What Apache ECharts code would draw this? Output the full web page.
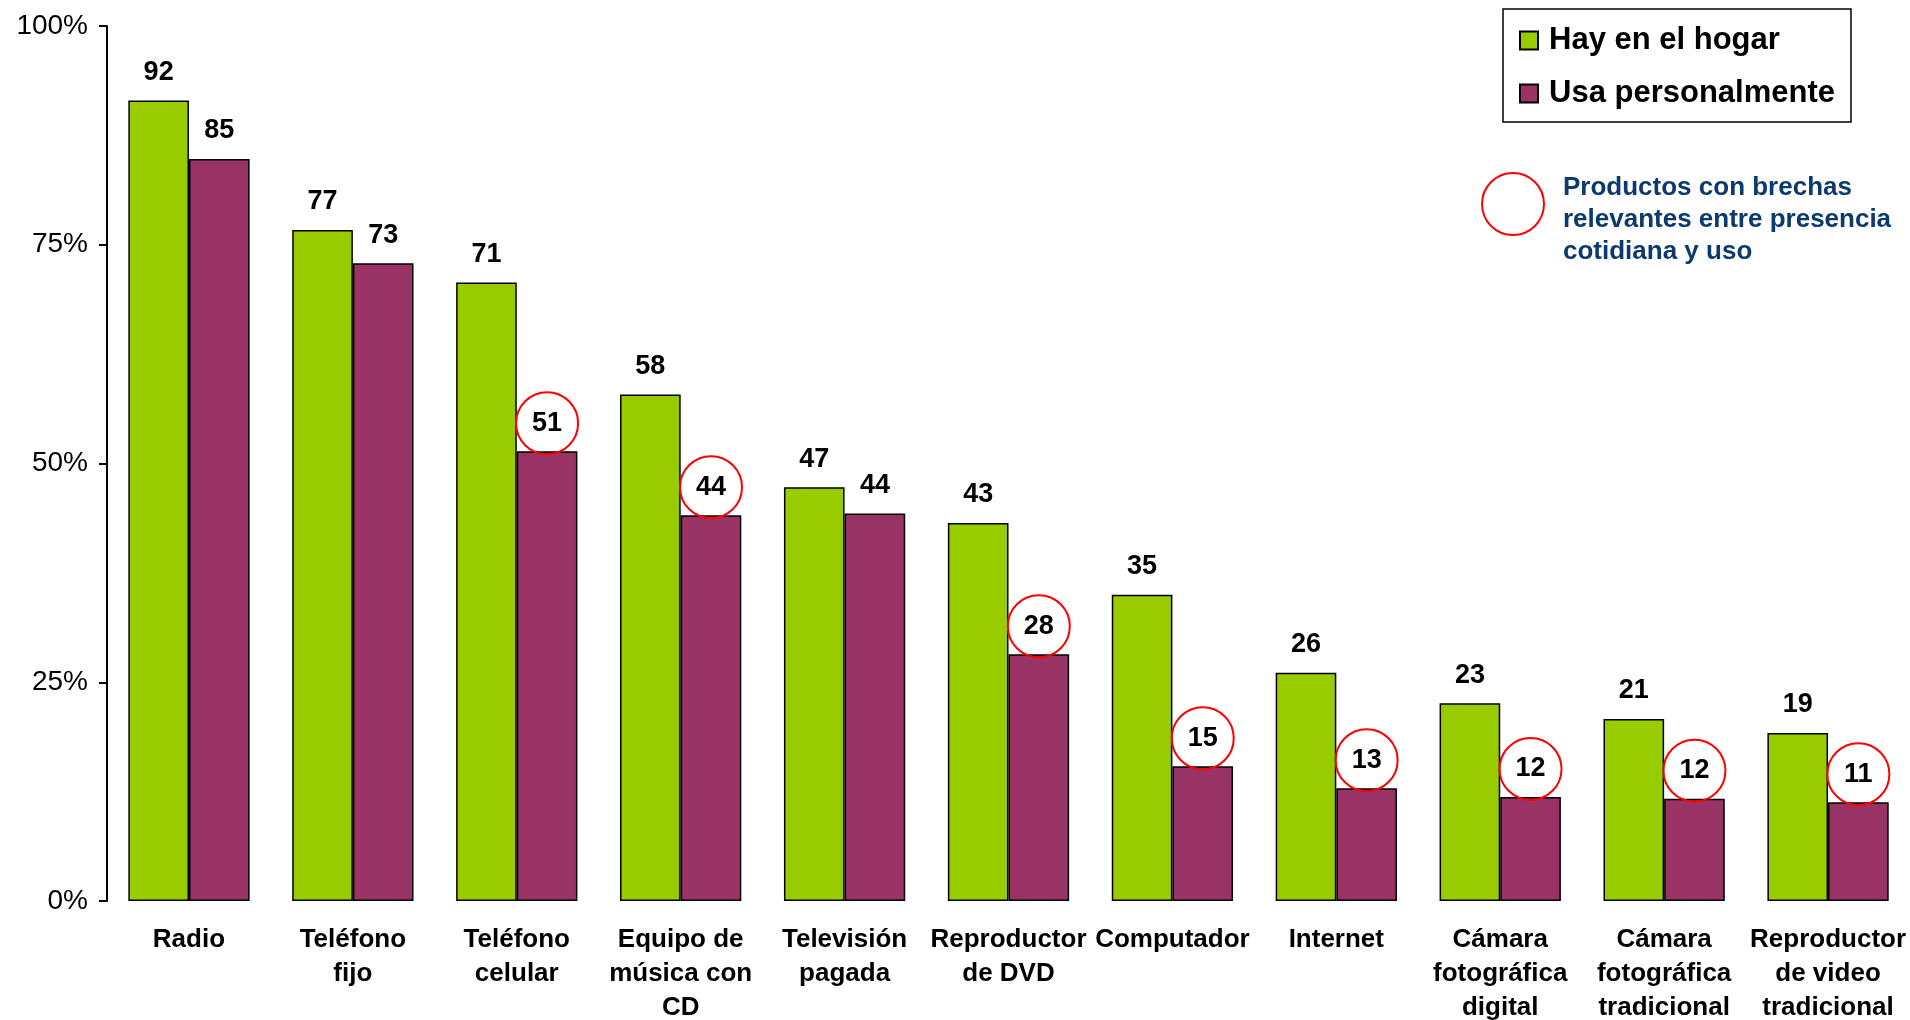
<!DOCTYPE html>
<html>
<head>
<meta charset="utf-8">
<script src="https://cdn.jsdelivr.net/npm/echarts@6/dist/echarts.min.js"></script>
<style>
html,body{margin:0;padding:0;background:#fff;}
#chart{width:1910px;height:1020px;}
</style>
</head>
<body>
<div id="chart"></div>
<script>
var categories = ['Radio', 'Teléfono\nfijo', 'Teléfono\ncelular', 'Equipo de\nmúsica con\nCD', 'Televisión\npagada', 'Reproductor\nde DVD', 'Computador', 'Internet', 'Cámara\nfotográfica\ndigital', 'Cámara\nfotográfica\ntradicional', 'Reproductor\nde video\ntradicional'];
var hayEnElHogar = [91.5, 76.7, 70.7, 57.9, 47.3, 43.2, 35.0, 26.1, 22.6, 20.8, 19.2];
var usaPersonalmente = [84.8, 72.9, 51.4, 44.1, 44.3, 28.2, 15.4, 12.9, 11.9, 11.7, 11.3];
var brechaRelevante = [false, false, true, true, false, true, true, true, true, true, true];
var yTicks = [0, 25, 50, 75, 100];
var seriesNames = ['Hay en el hogar', 'Usa personalmente'];
var noteText = 'Productos con brechas\nrelevantes entre presencia\ncotidiana y uso';

var FONT = '"Liberation Sans", Arial, Helvetica, sans-serif';

var baseLabel = {
  show: true,
  position: 'top',
  distance: -3,
  fontFamily: FONT,
  fontSize: 27,
  fontWeight: 'bold',
  color: '#000',
  width: 62,
  height: 62,
  lineHeight: 62,
  align: 'center',
  formatter: function (p) { return String(Math.round(p.value)); }
};

var usaData = usaPersonalmente.map(function (v, i) {
  if (brechaRelevante[i]) {
    return {
      value: v,
      label: {
        borderColor: '#FF0000',
        borderWidth: 2,
        borderRadius: 31
      }
    };
  }
  return v;
});

var chart = echarts.init(document.getElementById('chart'));
chart.setOption({
  backgroundColor: '#fff',
  animation: false,
  grid: { left: 107, right: 0, top: 26, bottom: 119, containLabel: false, outerBoundsMode: 'none' },
  legend: {
    orient: 'vertical',
    left: 1503,
    top: 9,
    padding: [16, 16, 13, 16],
    itemGap: 22,
    itemWidth: 18,
    itemHeight: 18,
    icon: 'rect',
    borderColor: '#000',
    borderWidth: 1.5,
    textStyle: { fontFamily: FONT, fontSize: 31, fontWeight: 'bold', color: '#000', padding: [0, 0, 0, 6] },
    data: seriesNames
  },
  xAxis: {
    type: 'category',
    data: categories,
    axisLine: { show: false },
    axisTick: { show: false },
    axisLabel: {
      interval: 0,
      margin: 22,
      fontFamily: FONT,
      fontSize: 26,
      fontWeight: 'bold',
      color: '#000',
      lineHeight: 34
    }
  },
  yAxis: {
    type: 'value',
    min: yTicks[0],
    max: yTicks[yTicks.length - 1],
    interval: 25,
    splitLine: { show: false },
    axisLine: { show: true, lineStyle: { color: '#000', width: 2 } },
    axisTick: { show: true, length: 8, lineStyle: { color: '#000', width: 2 } },
    axisLabel: {
      margin: 19,
      fontFamily: FONT,
      fontSize: 28,
      color: '#000',
      formatter: '{value}%'
    }
  },
  series: [
    {
      name: seriesNames[0],
      type: 'bar',
      data: hayEnElHogar,
      barGap: '0%',
      barCategoryGap: '26%',
      itemStyle: { color: '#99CC00', borderColor: '#000', borderWidth: 1.5 },
      label: baseLabel
    },
    {
      name: seriesNames[1],
      type: 'bar',
      data: usaData,
      barGap: '0%',
      barCategoryGap: '26%',
      itemStyle: { color: '#993366', borderColor: '#000', borderWidth: 1.5 },
      label: baseLabel
    }
  ],
  graphic: [
    {
      type: 'circle',
      shape: { cx: 1513, cy: 204, r: 31 },
      style: { fill: 'none', stroke: '#FF0000', lineWidth: 2 }
    },
    {
      type: 'text',
      x: 1563,
      y: 172,
      style: {
        text: noteText,
        font: 'bold 26px ' + FONT,
        fill: '#0B3A6E',
        lineHeight: 32,
        verticalAlign: 'top',
        align: 'left'
      }
    }
  ]
});
</script>
</body>
</html>
